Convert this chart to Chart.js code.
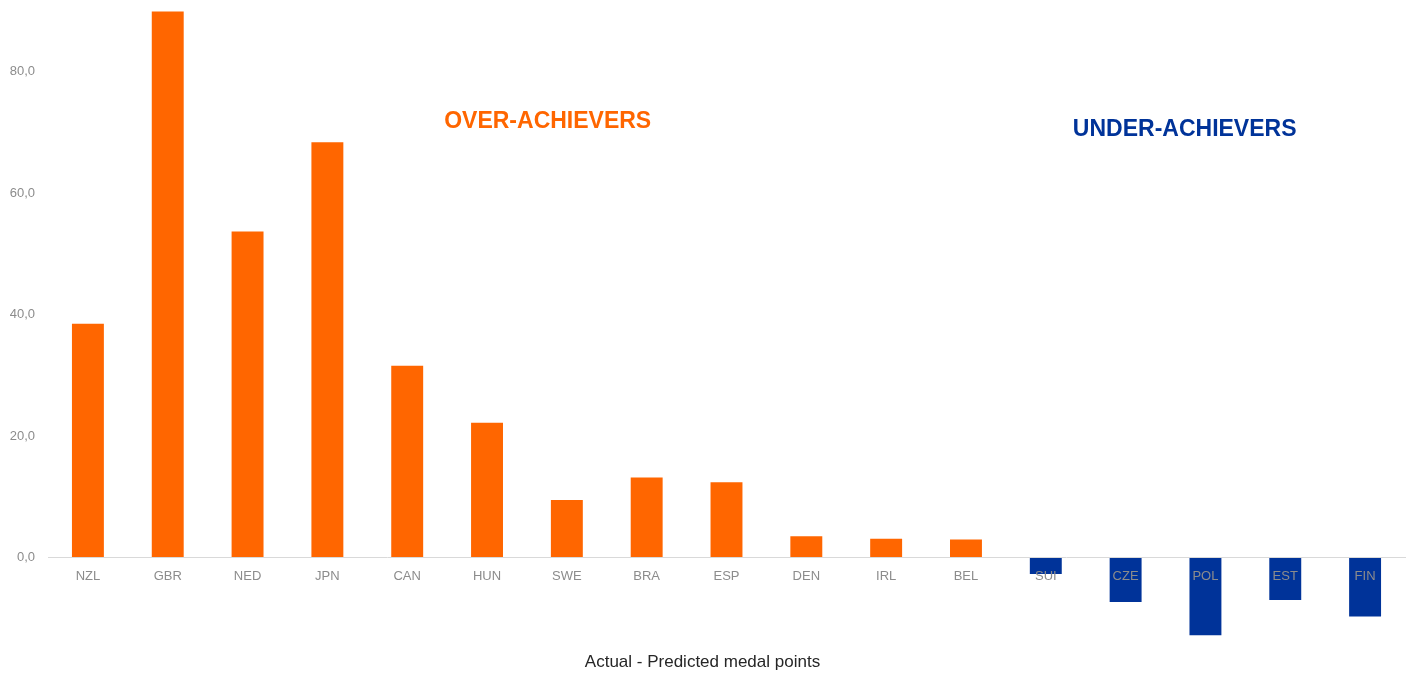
<!DOCTYPE html>
<html>
<head>
<meta charset="utf-8">
<script src="https://cdn.jsdelivr.net/npm/chart.js@4.4.1/dist/chart.umd.min.js"></script>
<style>
	html, body { margin: 0; padding: 0; background: #fff; }
	#wrap { width: 1413px; height: 674px; }
</style>
</head>
<body>
<div id="wrap"><canvas id="myChart"></canvas></div>
<script>
const countries = ['NZL', 'GBR', 'NED', 'JPN', 'CAN', 'HUN', 'SWE', 'BRA', 'ESP', 'DEN', 'IRL', 'BEL', 'SUI', 'CZE', 'POL', 'EST', 'FIN'];
const diffPoints = [38.5, 89.9, 53.7, 68.4, 31.6, 22.2, 9.5, 13.2, 12.4, 3.5, 3.1, 3.0, -2.7, -7.3, -12.8, -7.0, -9.7];
const yTicks = [0, 20, 40, 60, 80];

const ORANGE = '#ff6600';
const BLUE = '#003399';

// text labels placed in data units (category index, value)
const notes = [
	{ text: 'OVER-ACHIEVERS', x: 5.76, y: 71.8, color: ORANGE },
	{ text: 'UNDER-ACHIEVERS', x: 13.74, y: 70.5, color: BLUE }
];

const notesPlugin = {
	id: 'notes',
	afterDatasetsDraw(chart) {
		const c = chart.ctx;
		const xs = chart.scales.x, ys = chart.scales.y;
		c.save();
		c.font = 'bold 23px "Liberation Sans", Arial, sans-serif';
		c.textAlign = 'center';
		c.textBaseline = 'middle';
		notes.forEach(n => {
			c.fillStyle = n.color;
			c.fillText(n.text, xs.getPixelForValue(n.x), ys.getPixelForValue(n.y));
		});
		c.restore();
	}
};

const ctx = document.getElementById('myChart');
const plot = new Chart(ctx, {
	type: 'bar',
	data: {
		labels: countries,
		datasets: [{
			label: 'Actual - Predicted medal points',
			data: diffPoints,
			backgroundColor: diffPoints.map(v => v >= 0 ? ORANGE : BLUE),
			barPercentage: 0.4,
			categoryPercentage: 1.0
		}]
	},
	options: {
		responsive: true,
		maintainAspectRatio: false,
		animation: false,
		layout: { padding: { top: 11, right: 8, left: 0, bottom: 0 } },
		plugins: {
			legend: { display: false },
			tooltip: { enabled: false },
			title: {
				display: true,
				position: 'bottom',
				text: 'Actual - Predicted medal points',
				color: '#262626',
				font: { family: '"Liberation Sans", Arial, sans-serif', size: 17, weight: 'normal' },
				padding: { top: 13, bottom: 1 }
			}
		},
		scales: {
			x: {
				position: { y: 0 },
				grid: { display: false, drawTicks: false },
				border: { display: true, color: '#d9d9d9', width: 1, z: 1 },
				ticks: {
					z: 1,
					color: '#8c8c8c',
					padding: 11,
					font: { family: '"Liberation Sans", Arial, sans-serif', size: 13 }
				}
			},
			y: {
				min: -13.5,
				max: 90,
				grid: { display: false, drawTicks: false },
				border: { display: false },
				afterBuildTicks: scale => {
					scale.ticks = yTicks.map(v => ({ value: v }));
				},
				afterFit: scale => {
					scale.width = 48;
					// tick labels sit well inside the range, no edge room needed
					scale.paddingTop = 0;
					scale.paddingBottom = 0;
				},
				ticks: {
					color: '#8c8c8c',
					padding: 13,
					font: { family: '"Liberation Sans", Arial, sans-serif', size: 13 },
					callback: v => v.toFixed(1).replace('.', ',')
				}
			}
		}
	},
	plugins: [notesPlugin]
});
</script>
</body>
</html>
